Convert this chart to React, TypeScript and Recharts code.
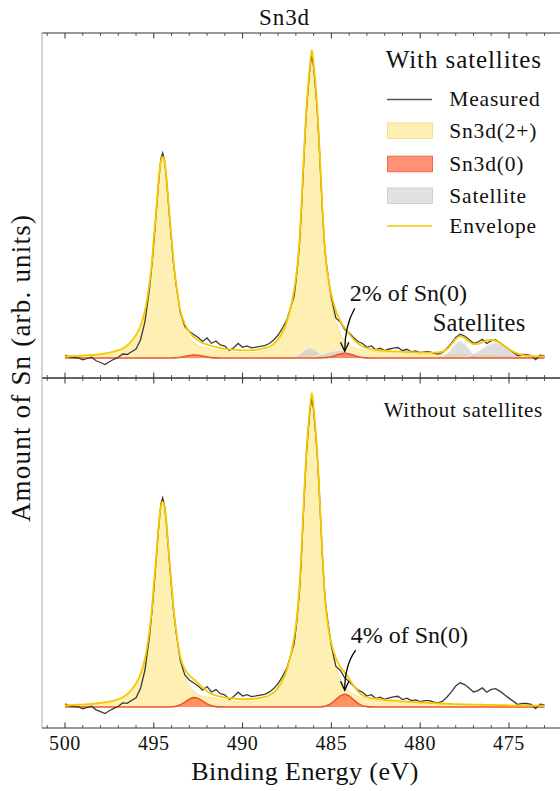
import React from 'react';
import { ComposedChart, Area, Line, XAxis, YAxis, ReferenceDot } from 'recharts';

// Binding energy grid (eV)
const energy = [
  500, 499.75, 499.5, 499.25, 499, 498.75, 498.5, 498.25, 498, 497.75, 497.5, 497.25, 497, 496.75, 496.5, 496.25, 496, 495.75, 495.5, 495.25,
  495.1, 495.0, 494.9, 494.8, 494.7, 494.6, 494.5, 494.4, 494.3, 494.2, 494.1, 494.0, 493.9,
  493.75, 493.5, 493.25, 493, 492.75, 492.5, 492.25, 492, 491.75, 491.5, 491.25, 491, 490.75, 490.5, 490.25, 490, 489.75, 489.5, 489.25, 489, 488.75, 488.5, 488.25, 488, 487.75, 487.5, 487.25,
  487.1, 487.0, 486.9, 486.8, 486.7, 486.6, 486.5, 486.4, 486.3, 486.2, 486.1, 486.0, 485.9, 485.8, 485.7, 485.6, 485.5, 485.4, 485.3, 485.2, 485.1,
  485, 484.75, 484.5, 484.25, 484, 483.75, 483.5, 483.25, 483, 482.75, 482.5, 482.25, 482, 481.75, 481.5, 481.25, 481, 480.75, 480.5, 480.25, 480, 479.75, 479.5, 479.25, 479, 478.75, 478.5, 478.25, 478, 477.75, 477.5, 477.25, 477, 476.75, 476.5, 476.25, 476, 475.75, 475.5, 475.25, 475, 474.75, 474.5, 474.25, 474, 473.75, 473.5, 473.25, 473,
];

const measured = [
  3, 1.2, 0.5, 0.2, -1.8, -0.5, 0.8, -2.8, -4.5, -6.5, -3.7, -1.3, 0.7, 4, 3.5, 6.3, 9, 18, 36, 68,
  94, 115, 137, 160, 182, 199, 205, 198, 182, 160, 138, 117, 96,
  74, 45, 31.5, 26.5, 23.5, 20.5, 16.5, 20, 14.7, 17, 13, 12, 7.5, 10.2, 14.5, 10.7, 12, 10.2, 10.8, 11.7, 12.3, 14.5, 18, 23, 30, 38.5, 53,
  62, 76, 93, 113, 143, 181, 217, 249, 272, 292, 303, 291, 271, 249, 217, 182, 146, 117, 97, 84, 72,
  60, 40, 36, 28.5, 25, 20.5, 16.5, 14.5, 10.7, 12, 8.3, 9.7, 7.5, 9, 9.9, 10.5, 7.3, 8.7, 6.3, 7, 5.3, 6.3, 6.3, 4.9, 4, 5.5, 9.5, 14.5, 20.5, 23.7, 22, 18.5, 14.7, 16, 18.7, 14.5, 17.3, 18, 15.3, 12, 8.7, 5.5, 2.5, 3.5, 3.4, 2.5, -1.5, 2.8, 2,
];

// ---- With satellites (top) ----
const sn2Top = [
  1.6, 1.8, 2.0, 2.2, 2.4, 2.7, 3.0, 3.4, 3.9, 4.5, 5.3, 6.3, 7.6, 9.5, 12.5, 17, 23, 32, 47, 74,
  97, 120, 140, 162, 183, 197, 201, 197, 183, 162, 140, 119.5, 98.5,
  74.2, 44.3, 30, 21, 15.5, 12.3, 10.6, 9.8, 9.1, 8.4, 7.5, 6.7, 6.1, 5.6, 5.3, 5.1, 5.1, 5.3, 5.7, 6.3, 7.3, 8.8, 11.5, 16.5, 24, 34.9, 51.9,
  66.2, 77.5, 92.6, 112.9, 142.6, 178.1, 211.7, 242.5, 264.6, 283.2, 297.2, 283.6, 265.3, 243.2, 212.1, 177.9, 141.3, 111.5, 90, 75.1, 63.6,
  54, 36, 24, 17, 13, 10.5, 9, 8, 7.3, 6.8, 6.3, 5.9, 5.6, 5.3, 5.1, 4.9, 4.7, 4.55, 4.4, 4.3, 4.2, 4.1, 4.0, 3.9, 3.8, 3.7, 3.6, 3.45, 3.3, 3.2, 3.1, 2.95, 2.8, 2.7, 2.55, 2.4, 2.3, 2.2, 2.1, 2.0, 1.9, 1.8, 1.7, 1.6, 1.5, 1.42, 1.35, 1.27, 1.2,
];

const sn0Top = [
  0, 0, 0, 0, 0, 0, 0, 0, 0, 0, 0, 0, 0, 0, 0, 0, 0, 0, 0, 0,
  0, 0, 0, 0, 0, 0, 0, 0, 0, 0, 0, 0.07, 0.11,
  0.25, 0.7, 1.5, 2.45, 2.98, 2.74, 1.9, 0.99, 0.39, 0.12, 0, 0, 0, 0, 0, 0, 0, 0, 0, 0, 0, 0, 0, 0, 0, 0, 0,
  0, 0, 0, 0, 0, 0, 0, 0, 0, 0, 0, 0, 0, 0, 0, 0, 0.14, 0.24, 0.39, 0.61, 0.92,
  1.32, 2.67, 4.08, 4.7, 4.08, 2.67, 1.32, 0.49, 0.14, 0, 0, 0, 0, 0, 0, 0, 0, 0, 0, 0, 0, 0, 0, 0, 0, 0, 0, 0, 0, 0, 0, 0, 0, 0, 0, 0, 0, 0, 0, 0, 0, 0, 0, 0, 0, 0, 0, 0, 0,
];

const satATop = [
  0, 0, 0, 0, 0, 0, 0, 0, 0, 0, 0, 0, 0, 0, 0, 0, 0, 0, 0, 0,
  0, 0, 0, 0, 0, 0, 0, 0, 0, 0, 0, 0, 0,
  0, 0, 0, 0, 0, 0, 0, 0, 0, 0, 0, 0, 0, 0, 0, 0, 0, 0, 0, 0, 0, 0, 0, 0, 0.02, 0.13, 0.58,
  1.23, 1.91, 2.82, 3.95, 5.24, 6.62, 7.93, 9.02, 9.75, 10, 9.75, 9.02, 7.93, 6.62, 5.24, 3.95, 2.82, 1.91, 1.23, 0.76, 0.44,
  0.24, 0.04, 0, 0, 0, 0, 0, 0, 0, 0, 0, 0, 0, 0, 0, 0, 0, 0, 0, 0, 0, 0, 0, 0, 0.3, 1.24, 3.8, 8.6, 14, 16.5, 14, 8.6, 3.8, 1.24, 0.3, 0.05, 0, 0, 0, 0, 0, 0, 0, 0, 0, 0, 0, 0, 0,
];

const satBTop = [
  0, 0, 0, 0, 0, 0, 0, 0, 0, 0, 0, 0, 0, 0, 0, 0, 0, 0, 0, 0,
  0, 0, 0, 0, 0, 0, 0, 0, 0, 0, 0, 0, 0,
  0, 0, 0, 0, 0, 0, 0, 0, 0, 0, 0, 0, 0, 0, 0, 0, 0, 0, 0, 0, 0, 0, 0, 0, 0, 0, 0,
  0.03, 0.05, 0.08, 0.11, 0.17, 0.23, 0.33, 0.45, 0.61, 0.82, 1.07, 1.37, 1.74, 2.16, 2.63, 3.16, 3.72, 4.31, 4.9, 5.49, 6.04,
  6.53, 7.36, 7.43, 6.74, 5.49, 4.01, 2.63, 1.55, 0.82, 0.39, 0.17, 0.06, 0.02, 0, 0, 0, 0, 0, 0, 0, 0, 0, 0, 0, 0, 0, 0, 0.07, 0.18, 0.47, 1.06, 2.1, 3.9, 6.3, 9.2, 12.1, 14.2, 15, 14.2, 12.1, 9.2, 6.3, 3.9, 2.1, 1.06, 0.47, 0.18, 0.07, 0, 0,
];

const envTop = [
  1.6, 1.8, 2.0, 2.2, 2.4, 2.7, 3.0, 3.4, 3.9, 4.5, 5.3, 6.3, 7.6, 9.5, 12.5, 17, 23, 32, 47, 74,
  97, 120, 140, 162, 183, 197, 201, 197, 183, 162, 140, 120, 99,
  76, 47, 34, 26, 21, 17.5, 15, 13.3, 12, 11, 10, 9.2, 8.6, 8.1, 7.8, 7.6, 7.6, 7.8, 8.2, 8.8, 9.8, 11.3, 14, 19, 26, 37, 54,
  68, 80, 96, 117, 148, 185, 220, 252, 275, 294, 308, 294, 275, 252, 220, 185, 148, 118, 97, 83, 72,
  63.3, 47.6, 37, 29.9, 24.1, 18.7, 14.45, 11.5, 9.8, 8.7, 8.0, 7.5, 7.1, 6.8, 6.6, 6.4, 6.2, 6.0, 5.9, 5.7, 5.6, 5.5, 5.4, 5.3, 5.5, 6.34, 8.77, 13.5, 19, 21.96, 20.3, 16.55, 13.9, 14.14, 15.85, 17.55, 18.1, 17.2, 14.9, 11.9, 8.8, 6.3, 4.3, 3.16, 2.37, 2.0, 1.72, 1.57, 1.5,
];

// ---- Without satellites (bottom) ----
const sn2Bottom = [
  1.6, 1.8, 2.0, 2.2, 2.4, 2.7, 3.0, 3.4, 3.9, 4.5, 5.3, 6.3, 7.6, 9.5, 12.5, 17, 23, 32, 47, 74,
  97, 120, 140, 162, 183, 197, 201, 197, 183, 162, 140, 119.5, 98.5,
  74.2, 44.3, 30, 21, 15.5, 12.3, 10.6, 9.8, 9.1, 8.4, 7.5, 6.7, 6.1, 5.6, 5.3, 5.1, 5.1, 5.3, 5.7, 6.3, 7.3, 8.8, 11.5, 16.5, 24, 35.0, 52.5,
  67.4, 79.4, 95.5, 116.9, 147.9, 184.8, 219.8, 251.8, 274.7, 293.6, 307.5, 293.3, 274.1, 250.9, 218.7, 183.4, 146.0, 115.6, 93.7, 78.6, 67.1,
  57.5, 39.7, 27.7, 20.4, 15.75, 12.5, 10.3, 8.8, 7.7, 7.0, 6.4, 5.9, 5.6, 5.3, 5.1, 4.9, 4.7, 4.55, 4.35, 4.1, 3.9, 3.7, 3.5, 3.3, 3.1, 2.95, 2.8, 2.65, 2.5, 2.4, 2.3, 2.2, 2.1, 2.0, 1.9, 1.8, 1.7, 1.6, 1.5, 1.45, 1.4, 1.3, 1.25, 1.2, 1.15, 1.1, 1.05, 1.0, 0.95,
];

const sn0Bottom = [
  0, 0, 0, 0, 0, 0, 0, 0, 0, 0, 0, 0, 0, 0, 0, 0, 0, 0, 0, 0,
  0, 0, 0, 0, 0, 0, 0, 0, 0, 0, 0, 0.2, 0.35,
  0.76, 2.16, 4.64, 7.5, 9.15, 8.4, 5.81, 3.04, 1.2, 0.35, 0.08, 0, 0, 0, 0, 0, 0, 0, 0, 0, 0, 0, 0, 0, 0, 0, 0,
  0, 0, 0, 0, 0, 0, 0, 0, 0, 0, 0, 0, 0, 0, 0, 0, 0.38, 0.63, 1.04, 1.63, 2.44,
  3.5, 7.1, 10.85, 12.5, 10.85, 7.1, 3.5, 1.3, 0.36, 0.08, 0, 0, 0, 0, 0, 0, 0, 0, 0, 0, 0, 0, 0, 0, 0, 0, 0, 0, 0, 0, 0, 0, 0, 0, 0, 0, 0, 0, 0, 0, 0, 0, 0, 0, 0, 0, 0, 0, 0,
];

const envBottom = [
  1.6, 1.8, 2.0, 2.2, 2.4, 2.7, 3.0, 3.4, 3.9, 4.5, 5.3, 6.3, 7.6, 9.5, 12.5, 17, 23, 32, 47, 74,
  97, 120, 140, 162, 183, 197, 201, 197, 183, 162, 140, 120.2, 99.35,
  76.5, 48.5, 37.1, 31, 27.2, 23.2, 18.9, 15.3, 12.8, 11.25, 10.1, 9.2, 8.6, 8.1, 7.8, 7.6, 7.6, 7.8, 8.2, 8.8, 9.8, 11.3, 14, 19, 26, 37, 54,
  67.9, 79.9, 96, 117.4, 148.4, 185.3, 220.3, 252.3, 275.2, 294.1, 308, 293.8, 274.6, 251.4, 219.2, 183.9, 146.9, 116.7, 95.2, 81.2, 70.5,
  62.2, 48, 39.55, 33.9, 27.6, 20.8, 15.3, 11.6, 9.56, 8.58, 7.9, 7.4, 6.8, 6.5, 6.3, 6.1, 5.5, 5.3, 5.0, 4.7, 4.4, 4.2, 3.9, 3.7, 3.5, 3.3, 3.15, 3.0, 2.85, 2.7, 2.6, 2.5, 2.4, 2.3, 2.2, 2.1, 2.0, 1.9, 1.8, 1.72, 1.65, 1.55, 1.5, 1.45, 1.4, 1.35, 1.3, 1.25, 1.2,
];

const xTicks = [501, 500, 499, 498, 497, 496, 495, 494, 493, 492, 491, 490, 489, 488, 487, 486, 485, 484, 483, 482, 481, 480, 479, 478, 477, 476, 475, 474, 473, 472];
const majorTickLabels = [500, 495, 490, 485, 480, 475];
const legendItems = ['Measured', 'Sn3d(2+)', 'Sn3d(0)', 'Satellite', 'Envelope'];
const legendBaselines = [106.2, 137.5, 170.8, 202.5, 232.8];

const xDomain: [number, number] = [471.62, 501.295];
const SERIF = "'Liberation Serif'";
const txt = (size: number, spacing = 0): React.CSSProperties => ({ fontFamily: SERIF, fontSize: size, letterSpacing: spacing });
const AXIS = '#333333';
const C_SN2 = '#FDF0B2';
const C_SN2_EDGE = '#F8E59A';
const C_SN0 = '#FF6A3D';
const C_SN0_EDGE = '#EF5528';
const C_SAT = '#C6C6C6';
const C_ENV = '#F7C900';
const C_MEAS = '#3a3a3a';

const topRows = energy.map((be, i) => ({
  be, measured: measured[i], sn2: sn2Top[i], sn0: sn0Top[i], satA: satATop[i], satB: satBTop[i], env: envTop[i],
}));
const bottomRows = energy.map((be, i) => ({
  be, measured: measured[i], sn2: sn2Bottom[i], sn0: sn0Bottom[i], env: envBottom[i],
}));

const makeTick = (side: 'top' | 'bottom', withLabels: boolean) => (props: any) => {
  const { x, y, payload } = props;
  const v = Number(payload.value);
  const major = Math.round(v) % 5 === 0;
  const len = major ? 5.5 : 3;
  const dir = side === 'bottom' ? -1 : 1;
  return (
    <g>
      <line x1={x} x2={x} y1={y} y2={y + dir * len} stroke={AXIS} strokeWidth={major ? 1 : 0.8} />
      {withLabels && major && majorTickLabels.includes(v) ? (
        <text x={x} y={y + 22} textAnchor="middle" style={txt(20, 0.6)} fill="#111">
          {v}
        </text>
      ) : null}
    </g>
  );
};

const ArrowNote = (props: any) => {
  const { cx, cy, text, dx0, dy0, tipDy, tx, ty } = props;
  if (cx == null || cy == null) return null;
  const p0x = cx + dx0;
  const p0y = cy + dy0;
  const tipX = cx;
  const tipY = cy + tipDy;
  const cX = cx;
  const cY = tipY - 25;
  return (
    <g>
      <path d={`M${p0x},${p0y} Q${cX},${cY} ${tipX},${tipY}`} fill="none" stroke="#000" strokeWidth={1.3} />
      <path d={`M${tipX - 4.2},${tipY - 9} L${tipX},${tipY} L${tipX + 4.2},${tipY - 9}`} fill="none" stroke="#000" strokeWidth={1.3} />
      <text x={cx + tx} y={cy + ty} style={txt(24)} fill="#111">
        {text}
      </text>
    </g>
  );
};

const commonX = {
  dataKey: 'be',
  type: 'number' as const,
  domain: xDomain,
  reversed: true,
  allowDataOverflow: true,
  ticks: xTicks,
  interval: 0 as const,
  tickSize: 0,
  tickMargin: 0,
  height: 1,
  tickLine: false,
  axisLine: { stroke: AXIS, strokeWidth: 1 },
};

export default function App() {
  return (
    <div style={{ position: 'absolute', left: 0, top: 0, width: 560, height: 791, overflow: 'hidden', background: '#fff' }}>
      <div style={{ position: 'absolute', left: 0, top: 0 }}>
        <ComposedChart width={570} height={379} data={topRows} margin={{ top: 32, right: 1, bottom: 0, left: 41 }}>
          <XAxis {...commonX} tick={makeTick('bottom', false)} />
          <XAxis {...commonX} xAxisId="t" orientation="top" tick={makeTick('top', false)} />
          <YAxis type="number" domain={[-20, 325]} allowDataOverflow width={1} tick={false} tickLine={false} axisLine={{ stroke: '#a9a9a9' }} />
          <Area dataKey="sn2" type="monotone" baseValue={0} fill={C_SN2} fillOpacity={1} stroke={C_SN2_EDGE} strokeWidth={1} isAnimationActive={false} activeDot={false} />
          <Area dataKey="satA" type="monotone" baseValue={0} fill={C_SAT} fillOpacity={0.6} stroke="#ececec" strokeWidth={1.1} isAnimationActive={false} activeDot={false} />
          <Area dataKey="satB" type="monotone" baseValue={0} fill={C_SAT} fillOpacity={0.6} stroke="#ececec" strokeWidth={1.1} isAnimationActive={false} activeDot={false} />
          <Area dataKey="sn0" type="monotone" baseValue={0} fill={C_SN0} fillOpacity={0.7} stroke={C_SN0_EDGE} strokeWidth={1.6} isAnimationActive={false} activeDot={false} />
          <Line dataKey="measured" type="linear" stroke={C_MEAS} strokeWidth={1.3} dot={false} activeDot={false} isAnimationActive={false} />
          <Line dataKey="env" type="monotone" stroke={C_ENV} strokeWidth={1.8} dot={false} activeDot={false} isAnimationActive={false} />
          <ReferenceDot
            x={energy[84]}
            y={sn0Top[84]}
            r={0}
            ifOverflow="visible"
            shape={(p: any) => <ArrowNote cx={p.cx} cy={p.cy} text="2% of Sn(0)" dx0={10} dy0={-45} tipDy={-2} tx={5} ty={-52.5} />}
          />
        </ComposedChart>
      </div>
      <div style={{ position: 'absolute', left: 0, top: 377 }}>
        <ComposedChart width={570} height={414} data={bottomRows} margin={{ top: 0, right: 1, bottom: 62, left: 41 }}>
          <XAxis {...commonX} tick={makeTick('bottom', true)} />
          <XAxis {...commonX} xAxisId="t" orientation="top" tick={makeTick('top', false)} />
          <YAxis type="number" domain={[-20.6, 322.5]} allowDataOverflow width={1} tick={false} tickLine={false} axisLine={{ stroke: '#a9a9a9' }} />
          <Area dataKey="sn2" type="monotone" baseValue={0} fill={C_SN2} fillOpacity={1} stroke={C_SN2_EDGE} strokeWidth={1} isAnimationActive={false} activeDot={false} />
          <Area dataKey="sn0" type="monotone" baseValue={0} fill={C_SN0} fillOpacity={0.7} stroke={C_SN0_EDGE} strokeWidth={1.6} isAnimationActive={false} activeDot={false} />
          <Line dataKey="measured" type="linear" stroke={C_MEAS} strokeWidth={1.3} dot={false} activeDot={false} isAnimationActive={false} />
          <Line dataKey="env" type="monotone" stroke={C_ENV} strokeWidth={1.8} dot={false} activeDot={false} isAnimationActive={false} />
          <ReferenceDot
            x={energy[84]}
            y={sn0Bottom[84]}
            r={0}
            ifOverflow="visible"
            shape={(p: any) => <ArrowNote cx={p.cx} cy={p.cy} text="4% of Sn(0)" dx0={11} dy0={-44} tipDy={-4} tx={6} ty={-51.5} />}
          />
        </ComposedChart>
      </div>
      <svg width={560} height={791} style={{ position: 'absolute', left: 0, top: 0, pointerEvents: 'none' }}>
        <text x={284.5} y={25} textAnchor="middle" style={txt(23, 0.9)} fill="#111">Sn3d</text>
        <text x={305} y={780} textAnchor="middle" style={txt(26, 0.45)} fill="#111">Binding Energy (eV)</text>
        <text transform="translate(30,368) rotate(-90)" textAnchor="middle" style={txt(27, 1.2)} fill="#111">
          Amount of Sn (arb. units)
        </text>
        {/* legend */}
        <text x={542} y={68.3} textAnchor="end" style={txt(25, 0.9)} fill="#111">With satellites</text>
        <line x1={387} x2={432} y1={99.5} y2={99.5} stroke="#555" strokeWidth={1.3} />
        <rect x={387.5} y={123} width={45} height={15.5} fill={C_SN2} stroke="#F5E08A" strokeWidth={1} />
        <rect x={387.5} y={156.2} width={45} height={15.5} fill="#FF9176" stroke="#F26A48" strokeWidth={1} />
        <rect x={387.5} y={188} width={45} height={15.5} fill="#E1E1E1" stroke="#D2D2D2" strokeWidth={1} />
        <line x1={387} x2={432} y1={226} y2={226} stroke={C_ENV} strokeWidth={1.5} />
        {legendItems.map((label, i) => (
          <text key={label} x={449.3} y={legendBaselines[i]} style={txt(21.5, 0.8)} fill="#111">
            {label}
          </text>
        ))}
        <text x={432.7} y={330.7} style={txt(24.5, 0.3)} fill="#111">Satellites</text>
        <text x={543} y={417} textAnchor="end" style={txt(21, 0.7)} fill="#111">Without satellites</text>
      </svg>
    </div>
  );
}
